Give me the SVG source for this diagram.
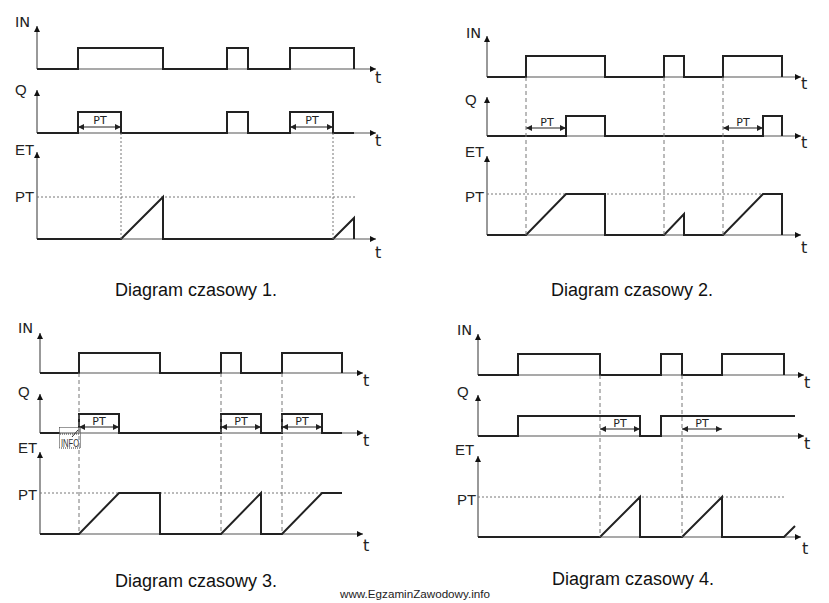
<svg xmlns="http://www.w3.org/2000/svg" width="829" height="603" viewBox="0 0 829 603">
<style>
.axv{fill:none;stroke:#555;stroke-width:1.2;marker-end:url(#ah)}
.sig{fill:none;stroke:#222;stroke-width:2;stroke-linejoin:miter}
.dot{fill:none;stroke:#777;stroke-width:1;stroke-dasharray:2,2}
.dash{fill:none;stroke:#777;stroke-width:1;stroke-dasharray:4,3}
.pt{fill:none;stroke:#222;stroke-width:1.2;marker-start:url(#pa0);marker-end:url(#pa1)}
.lb{font-family:"Liberation Sans",Arial,sans-serif;font-size:15px;fill:#222}
.lbi{font-family:"DejaVu Sans",Verdana,sans-serif;font-size:14.5px;fill:#222}
.tl{font-family:"DejaVu Sans",Verdana,sans-serif;font-size:16px;fill:#222}
.sp{font-family:"DejaVu Sans",Verdana,sans-serif;font-size:11px;fill:#222;text-anchor:middle}
.cap{font-family:"Liberation Sans",Arial,sans-serif;font-size:18px;fill:#111;text-anchor:middle}
</style>
<defs>
<marker id="ah" viewBox="0 0 10 10" refX="10" refY="5" markerWidth="8" markerHeight="6" markerUnits="userSpaceOnUse" orient="auto"><path d="M0,0 L10,5 L0,10 z" fill="#111"/></marker>
<marker id="pa1" viewBox="0 0 10 10" refX="10" refY="5" markerWidth="7" markerHeight="6" markerUnits="userSpaceOnUse" orient="auto"><path d="M0,0 L10,5 L0,10 z" fill="#222"/></marker>
<marker id="pa0" viewBox="0 0 10 10" refX="0" refY="5" markerWidth="7" markerHeight="6" markerUnits="userSpaceOnUse" orient="auto"><path d="M10,0 L0,5 L10,10 z" fill="#222"/></marker>
</defs>
<rect width="829" height="603" fill="#fff"/>

<!-- Diagram 1 -->
<g id="diagram1">
  <g id="d1-in">
    <text class="lbi" x="15" y="27">IN</text>
    <line class="axv" x1="37" y1="69" x2="37" y2="26"/>
    <line class="axv" x1="37" y1="69" x2="376" y2="69"/>
    <path class="sig" d="M37,69 H78 V48 H163 V69 H227 V48 H248 V69 H290 V48 H354 V69"/>
    <text class="tl" x="375" y="83">t</text>
  </g>
  <g id="d1-q">
    <text class="lb" x="15" y="95">Q</text>
    <line class="axv" x1="37" y1="133" x2="37" y2="90"/>
    <line class="axv" x1="37" y1="133" x2="376" y2="133"/>
    <path class="sig" d="M37,133 H78 V112 H121 V133 H227 V112 H248 V133 H290 V112 H333 V133 H354"/>
    <line class="pt" x1="78" y1="127" x2="121" y2="127"/>
    <text class="sp" x="100" y="124">PT</text>
    <line class="pt" x1="290" y1="127" x2="333" y2="127"/>
    <text class="sp" x="312" y="124">PT</text>
    <text class="tl" x="375" y="146">t</text>
  </g>
  <g id="d1-et">
    <text class="lb" x="15" y="155">ET</text>
    <line class="axv" x1="37" y1="239" x2="37" y2="152"/>
    <line class="axv" x1="37" y1="239" x2="376" y2="239"/>
    <line class="dot" x1="37" y1="197" x2="355" y2="197"/>
    <text class="lb" x="15" y="202">PT</text>
    <path class="sig" d="M37,239 H121 L163,197 V239 H333 L354,218 V239"/>
    <text class="tl" x="375" y="258">t</text>
  </g>
  <g id="d1-guides">
    <line class="dot" x1="121" y1="133" x2="121" y2="239"/>
    <line class="dot" x1="333" y1="133" x2="333" y2="239"/>
  </g>
  <text class="cap" x="196" y="296">Diagram czasowy 1.</text>
</g>

<!-- Diagram 2 -->
<g id="diagram2">
  <g id="d2-in">
    <text class="lbi" x="466" y="38">IN</text>
    <line class="axv" x1="487" y1="77" x2="487" y2="36"/>
    <line class="axv" x1="487" y1="77" x2="801" y2="77"/>
    <path class="sig" d="M487,77 H526 V56 H605 V77 H664 V56 H684 V77 H723 V56 H782 V77"/>
    <text class="tl" x="801" y="89">t</text>
  </g>
  <g id="d2-q">
    <text class="lb" x="465" y="105">Q</text>
    <line class="axv" x1="487" y1="136" x2="487" y2="97"/>
    <line class="axv" x1="487" y1="136" x2="801" y2="136"/>
    <path class="sig" d="M487,136 H566 V116 H605 V136 H763 V116 H782 V136"/>
    <line class="pt" x1="526" y1="128" x2="566" y2="128"/>
    <text class="sp" x="547" y="125.5">PT</text>
    <line class="pt" x1="723" y1="128" x2="763" y2="128"/>
    <text class="sp" x="743" y="125.5">PT</text>
    <text class="tl" x="801" y="148">t</text>
  </g>
  <g id="d2-et">
    <text class="lb" x="465" y="157">ET</text>
    <line class="axv" x1="487" y1="235" x2="487" y2="156"/>
    <line class="axv" x1="487" y1="235" x2="801" y2="235"/>
    <line class="dot" x1="487" y1="194" x2="782" y2="194"/>
    <text class="lb" x="465" y="202">PT</text>
    <path class="sig" d="M487,235 H526 L566,194 H605 V235 H664 L684,214 V235 H723 L763,194 H782 V235"/>
    <text class="tl" x="801" y="253">t</text>
  </g>
  <g id="d2-guides">
    <line class="dash" x1="526" y1="77" x2="526" y2="235"/>
    <line class="dash" x1="664" y1="77" x2="664" y2="235"/>
    <line class="dash" x1="723" y1="77" x2="723" y2="235"/>
  </g>
  <text class="cap" x="632" y="296">Diagram czasowy 2.</text>
</g>

<!-- Diagram 3 -->
<g id="diagram3">
  <g id="d3-in">
    <text class="lbi" x="18" y="333">IN</text>
    <line class="axv" x1="40" y1="373" x2="40" y2="333"/>
    <line class="axv" x1="40" y1="373" x2="363" y2="373"/>
    <path class="sig" d="M40,373 H79 V353 H160 V373 H221 V353 H241 V373 H282 V353 H342 V373"/>
    <text class="tl" x="363" y="386">t</text>
  </g>
  <g id="d3-q">
    <text class="lb" x="18" y="397">Q</text>
    <line class="axv" x1="40" y1="433" x2="40" y2="394"/>
    <line class="axv" x1="40" y1="433" x2="363" y2="433"/>
    <path class="sig" d="M40,433 H79 V414 H119 V433 H221 V414 H261 V433 H282 V414 H322 V433 H342"/>
    <line class="pt" x1="79" y1="427" x2="119" y2="427"/>
    <text class="sp" x="99" y="424.5">PT</text>
    <line class="pt" x1="221" y1="427" x2="261" y2="427"/>
    <text class="sp" x="241" y="424.5">PT</text>
    <line class="pt" x1="282" y1="427" x2="322" y2="427"/>
    <text class="sp" x="302" y="424.5">PT</text>
    <text class="tl" x="363" y="446">t</text>
  </g>
  <g id="d3-info">
    <rect x="59.5" y="427.5" width="21" height="20.5" fill="#fff" fill-opacity="0.6" stroke="#333" stroke-width="1" stroke-dasharray="1,1"/>
    <line x1="60" y1="434" x2="80" y2="434" stroke="#333" stroke-width="1" stroke-dasharray="1,1"/>
    <line x1="72" y1="437" x2="78" y2="430" stroke="#333" stroke-width="1"/>
    <text x="70" y="447" font-family="Liberation Sans, Arial, sans-serif" font-size="11" fill="#333" text-anchor="middle" textLength="18" lengthAdjust="spacingAndGlyphs">INFO</text>
  </g>
  <g id="d3-et">
    <text class="lb" x="18" y="453">ET</text>
    <line class="axv" x1="40" y1="534" x2="40" y2="452"/>
    <line class="axv" x1="40" y1="534" x2="363" y2="534"/>
    <line class="dot" x1="40" y1="493" x2="342" y2="493"/>
    <text class="lb" x="18" y="500">PT</text>
    <path class="sig" d="M40,534 H79 L119,493 H160 V534 H221 L261,493 V534 H282 L322,493 H342"/>
    <text class="tl" x="363" y="551">t</text>
  </g>
  <g id="d3-guides">
    <line class="dash" x1="79" y1="373" x2="79" y2="534"/>
    <line class="dash" x1="221" y1="373" x2="221" y2="534"/>
    <line class="dash" x1="282" y1="373" x2="282" y2="534"/>
  </g>
  <text class="cap" x="196" y="587">Diagram czasowy 3.</text>
</g>

<!-- Diagram 4 -->
<g id="diagram4">
  <g id="d4-in">
    <text class="lbi" x="457" y="335">IN</text>
    <line class="axv" x1="478" y1="375" x2="478" y2="334"/>
    <line class="axv" x1="478" y1="375" x2="804" y2="375"/>
    <path class="sig" d="M478,375 H518 V354 H600 V375 H661 V354 H682 V375 H722 V354 H784 V375"/>
    <text class="tl" x="804" y="388">t</text>
  </g>
  <g id="d4-q">
    <text class="lb" x="457" y="397">Q</text>
    <line class="axv" x1="478" y1="436" x2="478" y2="395"/>
    <line class="axv" x1="478" y1="436" x2="804" y2="436"/>
    <path class="sig" d="M478,436 H518 V416 H640 V436 H661 V416 H795"/>
    <line class="pt" x1="600" y1="429" x2="640" y2="429"/>
    <text class="sp" x="620" y="426.5">PT</text>
    <line class="pt" x1="682" y1="429" x2="722" y2="429"/>
    <text class="sp" x="702" y="426.5">PT</text>
    <text class="tl" x="804" y="449">t</text>
  </g>
  <g id="d4-et">
    <text class="lb" x="455" y="455">ET</text>
    <line class="axv" x1="478" y1="537" x2="478" y2="456"/>
    <line class="axv" x1="478" y1="537" x2="801" y2="537"/>
    <line class="dot" x1="478" y1="497" x2="784" y2="497"/>
    <text class="lb" x="457" y="505">PT</text>
    <path class="sig" d="M478,537 H600 L640,497 V537 H682 L722,497 V537 H784 L795,526"/>
    <text class="tl" x="802" y="554">t</text>
  </g>
  <g id="d4-guides">
    <line class="dash" x1="600" y1="375" x2="600" y2="537"/>
    <line class="dash" x1="682" y1="375" x2="682" y2="537"/>
  </g>
  <text class="cap" x="633" y="585">Diagram czasowy 4.</text>
</g>

<text x="340" y="598" font-family="Liberation Sans, Arial, sans-serif" font-size="11" fill="#222" textLength="150" lengthAdjust="spacingAndGlyphs">www.EgzaminZawodowy.info</text>
</svg>
